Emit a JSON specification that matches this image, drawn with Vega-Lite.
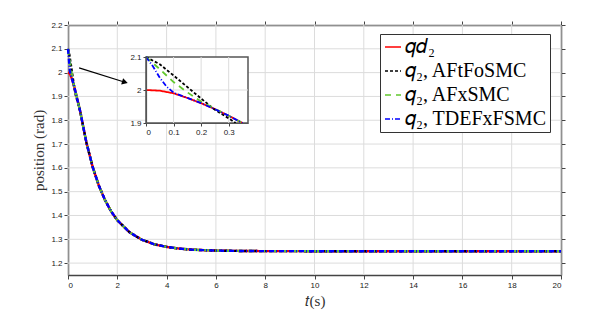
{
  "$schema": "https://vega.github.io/schema/vega-lite/v6.json",
  "width": 493,
  "height": 250,
  "autosize": {"type": "none"},
  "padding": {"left": 68, "top": 25, "right": 34, "bottom": 42},
  "background": "white",
  "config": {
    "view": {"stroke": null},
    "axis": {
      "labelFont": "Liberation Sans", "labelFontSize": 8, "labelColor": "#222", "labelOverlap": false,
      "tickColor": "#444", "domainColor": "#444", "domainWidth": 1.5, "tickWidth": 1, "tickSize": 4,
      "grid": false,
      "titleFont": "Liberation Serif", "titleFontWeight": "normal", "titleFontSize": 15, "titleColor": "#333"
    },
    "legend": {
      "orient": "none", "legendX": 312, "legendY": 9, "title": null,
      "symbolType": "stroke", "symbolSize": 256, "symbolStrokeWidth": 1.6,
      "labelFont": "Liberation Serif", "labelFontSize": 20, "labelColor": "black",
      "rowPadding": 4, "padding": 3, "strokeColor": "#333", "fillColor": "white",
      "labelLimit": 250, "labelOffset": 2
    }
  },
  "datasets": {
    "curves": [
      {"s": "𝑞𝑑₂", "t": 0, "q": 2.0},
      {"s": "𝑞𝑑₂", "t": 0.05, "q": 1.998},
      {"s": "𝑞𝑑₂", "t": 0.1, "q": 1.99},
      {"s": "𝑞𝑑₂", "t": 0.15, "q": 1.976},
      {"s": "𝑞𝑑₂", "t": 0.2, "q": 1.96},
      {"s": "𝑞𝑑₂", "t": 0.25, "q": 1.942},
      {"s": "𝑞𝑑₂", "t": 0.3, "q": 1.922},
      {"s": "𝑞𝑑₂", "t": 0.35, "q": 1.9},
      {"s": "𝑞𝑑₂", "t": 0.4, "q": 1.878},
      {"s": "𝑞𝑑₂", "t": 0.5, "q": 1.835},
      {"s": "𝑞𝑑₂", "t": 0.6, "q": 1.782},
      {"s": "𝑞𝑑₂", "t": 0.75, "q": 1.705},
      {"s": "𝑞𝑑₂", "t": 1, "q": 1.604},
      {"s": "𝑞𝑑₂", "t": 1.25, "q": 1.526},
      {"s": "𝑞𝑑₂", "t": 1.5, "q": 1.465},
      {"s": "𝑞𝑑₂", "t": 1.75, "q": 1.417},
      {"s": "𝑞𝑑₂", "t": 2, "q": 1.38},
      {"s": "𝑞𝑑₂", "t": 2.5, "q": 1.329},
      {"s": "𝑞𝑑₂", "t": 3, "q": 1.298},
      {"s": "𝑞𝑑₂", "t": 3.5, "q": 1.279},
      {"s": "𝑞𝑑₂", "t": 4, "q": 1.268},
      {"s": "𝑞𝑑₂", "t": 4.5, "q": 1.261},
      {"s": "𝑞𝑑₂", "t": 5, "q": 1.2565},
      {"s": "𝑞𝑑₂", "t": 6, "q": 1.2524},
      {"s": "𝑞𝑑₂", "t": 7, "q": 1.251},
      {"s": "𝑞𝑑₂", "t": 8, "q": 1.2503},
      {"s": "𝑞𝑑₂", "t": 10, "q": 1.25},
      {"s": "𝑞𝑑₂", "t": 15, "q": 1.25},
      {"s": "𝑞𝑑₂", "t": 20, "q": 1.25},

      {"s": "𝑞₂, AFtFoSMC", "t": 0, "q": 2.1},
      {"s": "𝑞₂, AFtFoSMC", "t": 0.05, "q": 2.078},
      {"s": "𝑞₂, AFtFoSMC", "t": 0.1, "q": 2.044},
      {"s": "𝑞₂, AFtFoSMC", "t": 0.15, "q": 2.009},
      {"s": "𝑞₂, AFtFoSMC", "t": 0.2, "q": 1.974},
      {"s": "𝑞₂, AFtFoSMC", "t": 0.25, "q": 1.94},
      {"s": "𝑞₂, AFtFoSMC", "t": 0.3, "q": 1.914},
      {"s": "𝑞₂, AFtFoSMC", "t": 0.325, "q": 1.9},
      {"s": "𝑞₂, AFtFoSMC", "t": 0.4, "q": 1.877},
      {"s": "𝑞₂, AFtFoSMC", "t": 0.5, "q": 1.835},
      {"s": "𝑞₂, AFtFoSMC", "t": 0.6, "q": 1.782},
      {"s": "𝑞₂, AFtFoSMC", "t": 0.75, "q": 1.705},
      {"s": "𝑞₂, AFtFoSMC", "t": 1, "q": 1.604},
      {"s": "𝑞₂, AFtFoSMC", "t": 1.25, "q": 1.526},
      {"s": "𝑞₂, AFtFoSMC", "t": 1.5, "q": 1.465},
      {"s": "𝑞₂, AFtFoSMC", "t": 1.75, "q": 1.417},
      {"s": "𝑞₂, AFtFoSMC", "t": 2, "q": 1.38},
      {"s": "𝑞₂, AFtFoSMC", "t": 2.5, "q": 1.329},
      {"s": "𝑞₂, AFtFoSMC", "t": 3, "q": 1.298},
      {"s": "𝑞₂, AFtFoSMC", "t": 3.5, "q": 1.279},
      {"s": "𝑞₂, AFtFoSMC", "t": 4, "q": 1.268},
      {"s": "𝑞₂, AFtFoSMC", "t": 4.5, "q": 1.261},
      {"s": "𝑞₂, AFtFoSMC", "t": 5, "q": 1.2565},
      {"s": "𝑞₂, AFtFoSMC", "t": 6, "q": 1.2524},
      {"s": "𝑞₂, AFtFoSMC", "t": 7, "q": 1.251},
      {"s": "𝑞₂, AFtFoSMC", "t": 8, "q": 1.2503},
      {"s": "𝑞₂, AFtFoSMC", "t": 10, "q": 1.25},
      {"s": "𝑞₂, AFtFoSMC", "t": 15, "q": 1.25},
      {"s": "𝑞₂, AFtFoSMC", "t": 20, "q": 1.25},

      {"s": "𝑞₂, AFxSMC", "t": 0, "q": 2.1},
      {"s": "𝑞₂, AFxSMC", "t": 0.05, "q": 2.063},
      {"s": "𝑞₂, AFxSMC", "t": 0.1, "q": 2.024},
      {"s": "𝑞₂, AFxSMC", "t": 0.15, "q": 1.993},
      {"s": "𝑞₂, AFxSMC", "t": 0.2, "q": 1.965},
      {"s": "𝑞₂, AFxSMC", "t": 0.25, "q": 1.943},
      {"s": "𝑞₂, AFxSMC", "t": 0.3, "q": 1.922},
      {"s": "𝑞₂, AFxSMC", "t": 0.35, "q": 1.9},
      {"s": "𝑞₂, AFxSMC", "t": 0.4, "q": 1.878},
      {"s": "𝑞₂, AFxSMC", "t": 0.5, "q": 1.835},
      {"s": "𝑞₂, AFxSMC", "t": 0.6, "q": 1.782},
      {"s": "𝑞₂, AFxSMC", "t": 0.75, "q": 1.705},
      {"s": "𝑞₂, AFxSMC", "t": 1, "q": 1.604},
      {"s": "𝑞₂, AFxSMC", "t": 1.25, "q": 1.526},
      {"s": "𝑞₂, AFxSMC", "t": 1.5, "q": 1.465},
      {"s": "𝑞₂, AFxSMC", "t": 1.75, "q": 1.417},
      {"s": "𝑞₂, AFxSMC", "t": 2, "q": 1.38},
      {"s": "𝑞₂, AFxSMC", "t": 2.5, "q": 1.329},
      {"s": "𝑞₂, AFxSMC", "t": 3, "q": 1.298},
      {"s": "𝑞₂, AFxSMC", "t": 3.5, "q": 1.279},
      {"s": "𝑞₂, AFxSMC", "t": 4, "q": 1.268},
      {"s": "𝑞₂, AFxSMC", "t": 4.5, "q": 1.261},
      {"s": "𝑞₂, AFxSMC", "t": 5, "q": 1.2565},
      {"s": "𝑞₂, AFxSMC", "t": 6, "q": 1.2524},
      {"s": "𝑞₂, AFxSMC", "t": 7, "q": 1.251},
      {"s": "𝑞₂, AFxSMC", "t": 8, "q": 1.2503},
      {"s": "𝑞₂, AFxSMC", "t": 10, "q": 1.25},
      {"s": "𝑞₂, AFxSMC", "t": 15, "q": 1.25},
      {"s": "𝑞₂, AFxSMC", "t": 20, "q": 1.25},

      {"s": "𝑞₂, TDEFxFSMC", "t": 0, "q": 2.1},
      {"s": "𝑞₂, TDEFxFSMC", "t": 0.025, "q": 2.072},
      {"s": "𝑞₂, TDEFxFSMC", "t": 0.05, "q": 2.037},
      {"s": "𝑞₂, TDEFxFSMC", "t": 0.075, "q": 2.01},
      {"s": "𝑞₂, TDEFxFSMC", "t": 0.1, "q": 1.992},
      {"s": "𝑞₂, TDEFxFSMC", "t": 0.15, "q": 1.976},
      {"s": "𝑞₂, TDEFxFSMC", "t": 0.2, "q": 1.96},
      {"s": "𝑞₂, TDEFxFSMC", "t": 0.25, "q": 1.942},
      {"s": "𝑞₂, TDEFxFSMC", "t": 0.3, "q": 1.922},
      {"s": "𝑞₂, TDEFxFSMC", "t": 0.35, "q": 1.9},
      {"s": "𝑞₂, TDEFxFSMC", "t": 0.4, "q": 1.878},
      {"s": "𝑞₂, TDEFxFSMC", "t": 0.5, "q": 1.835},
      {"s": "𝑞₂, TDEFxFSMC", "t": 0.6, "q": 1.782},
      {"s": "𝑞₂, TDEFxFSMC", "t": 0.75, "q": 1.705},
      {"s": "𝑞₂, TDEFxFSMC", "t": 1, "q": 1.604},
      {"s": "𝑞₂, TDEFxFSMC", "t": 1.25, "q": 1.526},
      {"s": "𝑞₂, TDEFxFSMC", "t": 1.5, "q": 1.465},
      {"s": "𝑞₂, TDEFxFSMC", "t": 1.75, "q": 1.417},
      {"s": "𝑞₂, TDEFxFSMC", "t": 2, "q": 1.38},
      {"s": "𝑞₂, TDEFxFSMC", "t": 2.5, "q": 1.329},
      {"s": "𝑞₂, TDEFxFSMC", "t": 3, "q": 1.298},
      {"s": "𝑞₂, TDEFxFSMC", "t": 3.5, "q": 1.279},
      {"s": "𝑞₂, TDEFxFSMC", "t": 4, "q": 1.268},
      {"s": "𝑞₂, TDEFxFSMC", "t": 4.5, "q": 1.261},
      {"s": "𝑞₂, TDEFxFSMC", "t": 5, "q": 1.2565},
      {"s": "𝑞₂, TDEFxFSMC", "t": 6, "q": 1.2524},
      {"s": "𝑞₂, TDEFxFSMC", "t": 7, "q": 1.251},
      {"s": "𝑞₂, TDEFxFSMC", "t": 8, "q": 1.2503},
      {"s": "𝑞₂, TDEFxFSMC", "t": 10, "q": 1.25},
      {"s": "𝑞₂, TDEFxFSMC", "t": 15, "q": 1.25},
      {"s": "𝑞₂, TDEFxFSMC", "t": 20, "q": 1.25}
    ],
    "gridx": [{"v": 0}, {"v": 2}, {"v": 4}, {"v": 6}, {"v": 8}, {"v": 10}, {"v": 12}, {"v": 14}, {"v": 16}, {"v": 18}, {"v": 20}],
    "gridy": [{"v": 1.2}, {"v": 1.3}, {"v": 1.4}, {"v": 1.5}, {"v": 1.6}, {"v": 1.7}, {"v": 1.8}, {"v": 1.9}, {"v": 2.0}, {"v": 2.1}, {"v": 2.2}],
    "insetgx": [{"v": 0.1}, {"v": 0.2}, {"v": 0.3}],
    "insetgy": [{"v": 2.0}],
    "arrow": [{"t1": 0.45, "q1": 2.02, "t2": 2.31, "q2": 1.9596}],
    "head": [{"t": 2.31, "q": 1.9596}],
    "box": [{"t1": 0, "t2": 0.37, "q1": 1.9, "q2": 2.1}]
  },
  "layer": [
    {
      "data": {"name": "gridx"},
      "mark": {"type": "rule", "color": "#dcdcdc", "strokeWidth": 1},
      "encoding": {
        "x": {"field": "v", "type": "quantitative",
          "scale": {"domain": [0, 20], "nice": false, "zero": false},
          "axis": {"orient": "bottom", "values": [0, 2, 4, 6, 8, 10, 12, 14, 16, 18, 20], "labelOverlap": false, "title": "𝑡(s)", "titlePadding": 4}}
      }
    },
    {
      "data": {"name": "gridy"},
      "mark": {"type": "rule", "color": "#dcdcdc", "strokeWidth": 1},
      "encoding": {
        "y": {"field": "v", "type": "quantitative",
          "scale": {"domain": [1.15, 2.2], "nice": false, "zero": false},
          "axis": {"orient": "left", "values": [1.2, 1.3, 1.4, 1.5, 1.6, 1.7, 1.8, 1.9, 2.0, 2.1, 2.2], "labelOverlap": false, "labelBound": false, "format": "~g", "title": "position (rad)", "titlePadding": 4}}
      }
    },
    {
      "data": {"name": "curves"},
      "mark": {"type": "line", "strokeWidth": 2.4},
      "encoding": {
        "x": {"field": "t", "type": "quantitative", "scale": {"domain": [0, 20], "nice": false, "zero": false}, "axis": null},
        "y": {"field": "q", "type": "quantitative", "scale": {"domain": [1.15, 2.2], "nice": false, "zero": false}, "axis": null},
        "color": {"field": "s", "type": "nominal",
          "scale": {"domain": ["𝑞𝑑₂", "𝑞₂, AFtFoSMC", "𝑞₂, AFxSMC", "𝑞₂, TDEFxFSMC"], "range": ["#ff0000", "#000000", "#62c82e", "#0000ff"]}},
        "strokeDash": {"field": "s", "type": "nominal",
          "scale": {"domain": ["𝑞𝑑₂", "𝑞₂, AFtFoSMC", "𝑞₂, AFxSMC", "𝑞₂, TDEFxFSMC"], "range": [[1, 0], [3, 2], [6, 5], [5, 2, 1, 2]]}}
      }
    },
    {
      "data": {"name": "arrow"},
      "mark": {"type": "rule", "color": "black", "strokeWidth": 1.2},
      "encoding": {
        "x": {"field": "t1", "type": "quantitative", "scale": {"domain": [0, 20], "nice": false, "zero": false}, "axis": null},
        "y": {"field": "q1", "type": "quantitative", "scale": {"domain": [1.15, 2.2], "nice": false, "zero": false}, "axis": null},
        "x2": {"field": "t2"},
        "y2": {"field": "q2"}
      }
    },
    {
      "data": {"name": "head"},
      "mark": {"type": "point", "shape": "triangle-right", "filled": true, "color": "black", "size": 45, "angle": 17, "opacity": 1},
      "encoding": {
        "x": {"field": "t", "type": "quantitative", "scale": {"domain": [0, 20], "nice": false, "zero": false}, "axis": null},
        "y": {"field": "q", "type": "quantitative", "scale": {"domain": [1.15, 2.2], "nice": false, "zero": false}, "axis": null}
      }
    },
    {
      "data": {"name": "arrow"},
      "mark": {"type": "rule", "opacity": 0},
      "encoding": {
        "x": {"field": "t1", "type": "quantitative",
          "scale": {"domain": [0, 20], "nice": false, "zero": false},
          "axis": {"orient": "top", "values": [0, 2, 4, 6, 8, 10, 12, 14, 16, 18, 20], "labels": false, "title": null}},
        "y": {"field": "q1", "type": "quantitative",
          "scale": {"domain": [1.15, 2.2], "nice": false, "zero": false},
          "axis": {"orient": "right", "values": [1.2, 1.3, 1.4, 1.5, 1.6, 1.7, 1.8, 1.9, 2.0, 2.1, 2.2], "labels": false, "title": null}}
      }
    },
    {
      "layer": [
        {
          "data": {"name": "box"},
          "mark": {"type": "rect", "fill": "white", "stroke": "#555", "strokeWidth": 1.5},
          "encoding": {
            "x": {"field": "t1", "type": "quantitative",
              "scale": {"domain": [0, 0.37], "range": [78, 180], "nice": false, "zero": false},
              "axis": {"orient": "bottom", "offset": -152, "values": [0, 0.1, 0.2, 0.3], "labelOverlap": false, "format": "~g", "title": null, "zindex": 1, "tickSize": 3, "domainWidth": 1.2, "domainColor": "#555"}},
            "x2": {"field": "t2"},
            "y": {"field": "q1", "type": "quantitative",
              "scale": {"domain": [1.9, 2.1], "range": [98, 32], "nice": false, "zero": false},
              "axis": {"orient": "left", "offset": -78, "values": [1.9, 2.0, 2.1], "labelOverlap": false, "format": "~g", "title": null, "zindex": 1, "tickSize": 3, "domainWidth": 1.2, "domainColor": "#555"}},
            "y2": {"field": "q2"}
          }
        },
        {
          "data": {"name": "insetgx"},
          "mark": {"type": "rule", "color": "#dcdcdc", "strokeWidth": 1},
          "encoding": {
            "x": {"field": "v", "type": "quantitative"},
            "y": {"datum": 1.9, "type": "quantitative"},
            "y2": {"datum": 2.1}
          }
        },
        {
          "data": {"name": "insetgy"},
          "mark": {"type": "rule", "color": "#dcdcdc", "strokeWidth": 1},
          "encoding": {
            "y": {"field": "v", "type": "quantitative"},
            "x": {"datum": 0, "type": "quantitative"},
            "x2": {"datum": 0.37}
          }
        },
        {
          "data": {"name": "curves"},
          "transform": [{"filter": "datum.t <= 0.36"}],
          "mark": {"type": "line", "strokeWidth": 1.8},
          "encoding": {
            "x": {"field": "t", "type": "quantitative"},
            "y": {"field": "q", "type": "quantitative"},
            "color": {"field": "s", "type": "nominal"},
            "strokeDash": {"field": "s", "type": "nominal"}
          }
        }
      ]
    }
  ],
  "resolve": {"scale": {"x": "independent", "y": "independent"}}
}
